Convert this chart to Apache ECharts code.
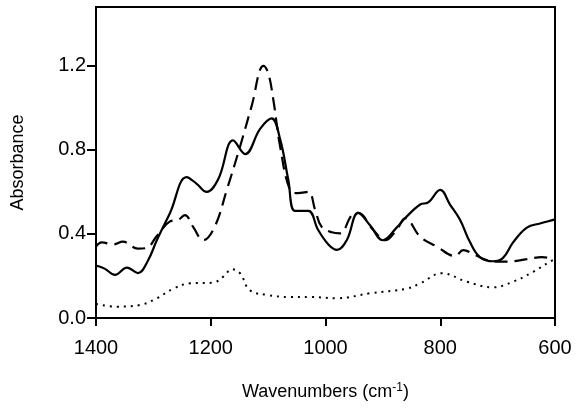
<!DOCTYPE html>
<html>
<head>
<meta charset="utf-8">
<script src="https://cdn.jsdelivr.net/npm/echarts@6/dist/echarts.min.js"></script>
<style>html,body{margin:0;padding:0;background:#fff}#c{width:577px;height:408px}</style>
</head>
<body>
<div id="c"></div>
<script>
const xTicks = [1400, 1200, 1000, 800, 600];
const yTicks = [0.0, 0.4, 0.8, 1.2];

const solidWn  = [1400,1385,1367,1346,1327,1310,1294,1271,1242,1225,1207,1187,1161,1140,1114,1094,1079,1065,1053,1030,1013,995,980,963,943,922,900,876,861,835,821,800,783,766,748,731,708,691,673,649,626,603,600];
const solidAbs = [0.25,0.235,0.205,0.24,0.214,0.27,0.37,0.50,0.67,0.64,0.60,0.66,0.845,0.78,0.90,0.95,0.85,0.66,0.51,0.51,0.42,0.35,0.324,0.37,0.50,0.44,0.37,0.43,0.476,0.54,0.55,0.61,0.54,0.47,0.36,0.29,0.27,0.285,0.36,0.43,0.45,0.467,0.47];

const dashWn  = [1400,1390,1370,1353,1327,1312,1294,1271,1257,1245,1231,1213,1193,1172,1149,1129,1108,1100,1091,1079,1062,1048,1030,1018,1007,989,975,954,943,917,896,876,861,835,806,774,760,739,719,684,649,623,600];
const dashAbs = [0.34,0.36,0.35,0.363,0.33,0.333,0.39,0.46,0.467,0.49,0.435,0.37,0.435,0.61,0.815,1.006,1.2,1.167,1.04,0.815,0.61,0.594,0.60,0.514,0.435,0.408,0.403,0.49,0.50,0.42,0.37,0.42,0.475,0.387,0.34,0.295,0.323,0.30,0.276,0.268,0.28,0.29,0.28];

const dotWn  = [1400,1364,1323,1294,1265,1236,1196,1178,1163,1149,1132,1102,1062,1027,980,922,858,835,797,754,708,673,638,609,600];
const dotAbs = [0.067,0.054,0.062,0.094,0.14,0.165,0.168,0.197,0.232,0.213,0.133,0.11,0.10,0.10,0.094,0.118,0.14,0.165,0.213,0.173,0.146,0.173,0.22,0.268,0.28];

const pairs = (xs, ys) => xs.map((x, i) => [x, ys[i]]);

const chart = echarts.init(document.getElementById('c'));
chart.setOption({
  animation: false,
  backgroundColor: '#fff',
  grid: { left: 96, right: 22, top: 7, bottom: 90, containLabel: false, outerBoundsMode: 'none',
    show: true, borderColor: '#000', borderWidth: 2, backgroundColor: 'transparent' },
  xAxis: {
    type: 'value', inverse: true, min: 600, max: 1400, interval: 200,
    name: 'Wavenumbers (cm{sup|-1})', nameLocation: 'middle', nameGap: 64,
    nameTextStyle: {
      fontFamily: 'Liberation Sans, Arial', fontSize: 18, color: '#000',
      rich: { sup: { fontSize: 12, verticalAlign: 'top', padding: [0, 0, 8, 0], fontFamily: 'Liberation Sans, Arial', color: '#000' } }
    },
    axisLine: { show: true, onZero: false, lineStyle: { color: '#000', width: 2 } },
    axisTick: { show: true, inside: false, length: 8, lineStyle: { color: '#000', width: 2 } },
    axisLabel: { fontFamily: 'Liberation Sans, Arial', fontSize: 20, color: '#000', margin: 20,
      formatter: v => xTicks.includes(v) ? String(v) : '' },
    splitLine: { show: false }
  },
  yAxis: {
    type: 'value', min: 0, max: 1.48, interval: 0.4,
    name: 'Absorbance', nameLocation: 'middle', nameGap: 69,
    nameTextStyle: { fontFamily: 'Liberation Sans, Arial', fontSize: 18, color: '#000' },
    axisLine: { show: true, onZero: false, lineStyle: { color: '#000', width: 2 } },
    axisTick: { show: true, inside: false, length: 9, lineStyle: { color: '#000', width: 2 } },
    axisLabel: { fontFamily: 'Liberation Sans, Arial', fontSize: 20, color: '#000', margin: 10, showMaxLabel: false,
      formatter: v => yTicks.some(t => Math.abs(t - v) < 1e-6) ? v.toFixed(1) : '' },
    splitLine: { show: false }
  },
  series: [
    { type: 'line', data: pairs(solidWn, solidAbs), smooth: 0.4, symbol: 'none',
      lineStyle: { color: '#000', width: 2.2 } },
    { type: 'line', data: pairs(dashWn, dashAbs), smooth: 0.4, symbol: 'none',
      lineStyle: { color: '#000', width: 2.2, type: [13, 7] } },
    { type: 'line', data: pairs(dotWn, dotAbs), smooth: 0.4, symbol: 'none',
      lineStyle: { color: '#000', width: 2, type: [2, 5] } }
  ]
});
</script>
</body>
</html>
